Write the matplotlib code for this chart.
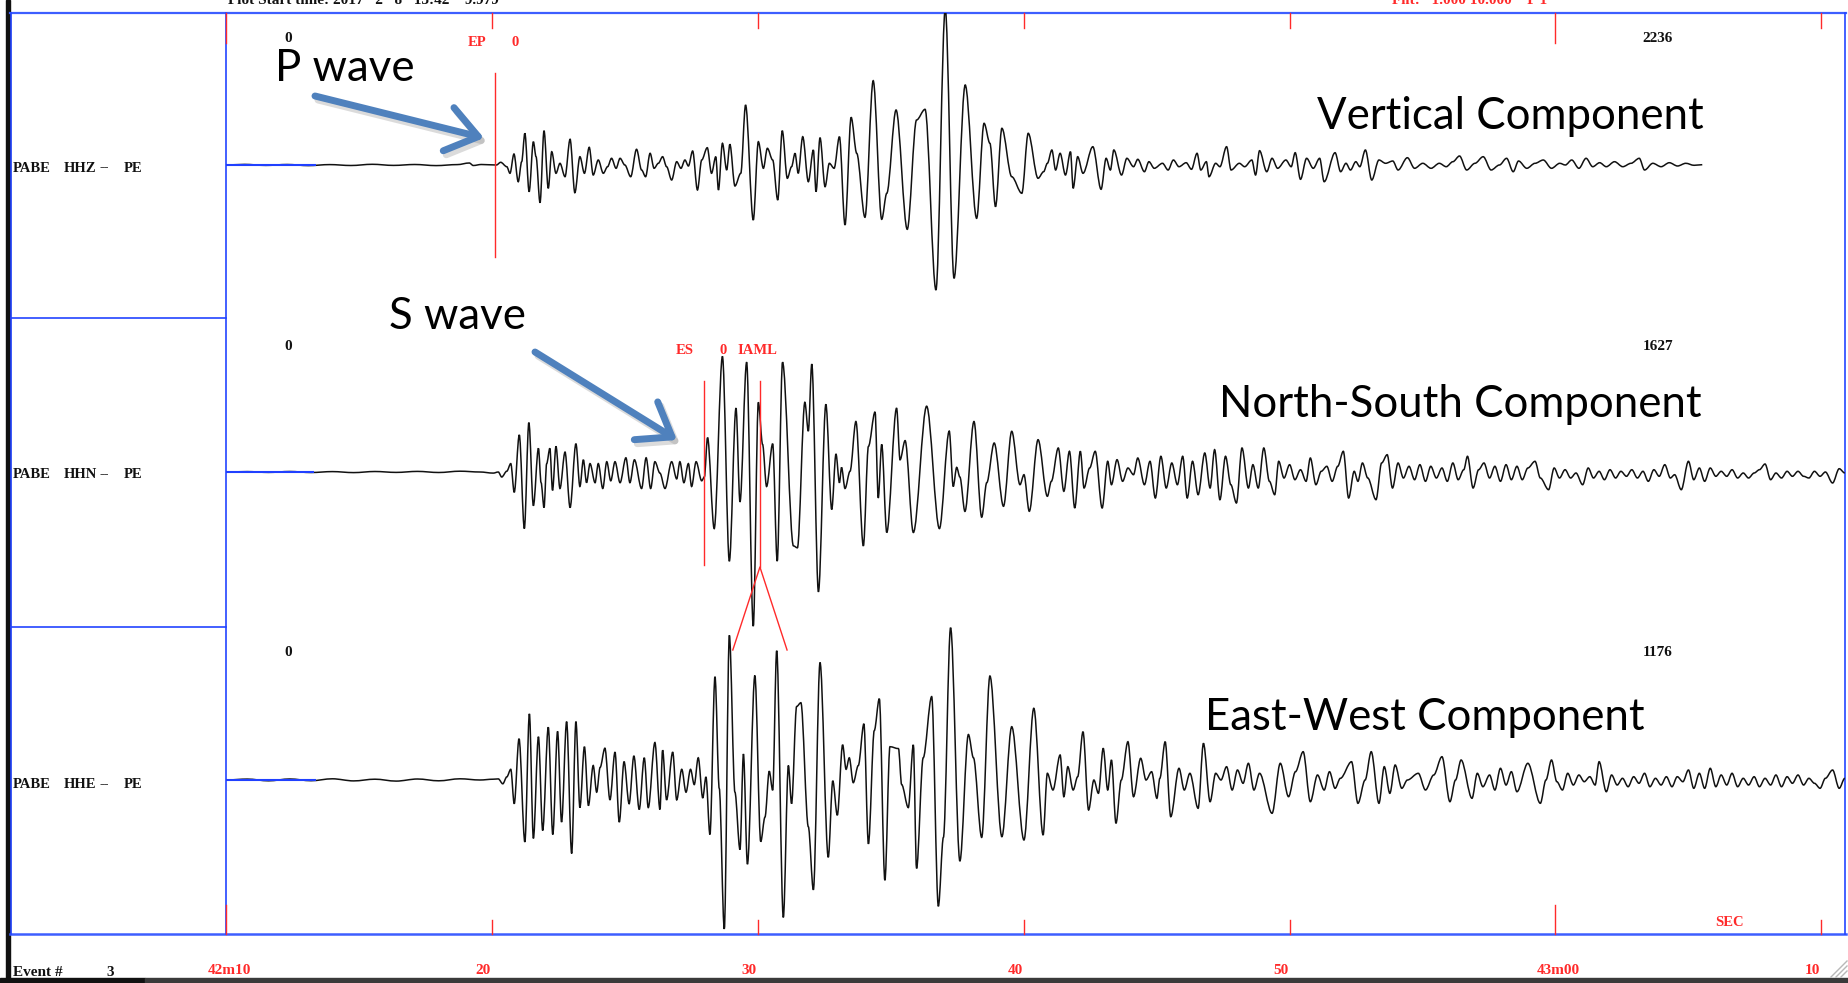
import matplotlib
matplotlib.use("Agg")
import matplotlib.pyplot as plt
from matplotlib.patches import Rectangle, PathPatch
from matplotlib.path import Path
import numpy as np

# ---------------- data ----------------
STATION = "PABE"
NETWORK = "PE"
CHANNELS = ["HHZ", "HHN", "HHE"]
TRACE_MAX = ["2236", "1627", "1176"]
COMPONENTS = ["Vertical Component", "North-South Component", "East-West Component"]
TICK_SECONDS = [0, 10, 20, 30, 40, 50, 60]
TICK_LABELS = ["42m10", "20", "30", "40", "50", "43m00", "10"]
PICK_EP = 10.12
PICK_ES = 17.98
PICK_IAML = 20.08
PRE_WINDOW_END = [3.4, 3.3, 3.4]

# vertical component: (time s after 42m10, amplitude display units)
Z_T = [0.0, 0.7, 1.5, 2.3, 3.1, 3.9, 4.7, 5.5, 6.3, 7.1, 7.9, 8.7, 9.15, 9.3, 9.6, 10.17,
       10.33, 10.56, 10.68, 10.83, 10.99, 11.12, 11.24, 11.40, 11.56, 11.66, 11.81, 11.96, 12.12,
       12.25, 12.41, 12.56, 12.75, 12.94, 13.12, 13.31, 13.48, 13.66, 13.81, 14.00, 14.19, 14.35,
       14.50, 14.67, 14.82, 15.00, 15.22, 15.44, 15.63, 15.78, 15.95, 16.10, 16.26, 16.42, 16.57,
       16.76, 16.95, 17.11, 17.26, 17.39, 17.55, 17.73, 17.89, 18.10, 18.26, 18.42, 18.52, 18.67,
       18.83, 18.95, 19.14, 19.36, 19.54, 19.83, 20.02, 20.21, 20.36, 20.56, 20.75, 20.92, 21.11,
       21.27, 21.40, 21.52, 21.69, 21.90, 22.09, 22.19, 22.34, 22.53, 22.69, 22.87, 23.07, 23.28,
       23.51, 23.72, 24.03, 24.34, 24.66, 24.85, 25.20, 25.62, 25.97, 26.29, 26.70, 27.05, 27.38,
       27.80, 28.23, 28.51, 28.73,
       28.94, 29.18, 29.55, 29.93, 30.17, 30.54, 30.75, 30.89, 31.06, 31.20, 31.37, 31.57, 31.76,
       31.86, 32.03, 32.23, 32.60, 32.91, 33.10, 33.26, 33.39, 33.68, 33.88, 34.13, 34.29, 34.54,
       34.71, 34.91, 35.22, 35.43, 35.63, 35.84, 36.11, 36.31, 36.52, 36.66, 36.87, 36.97, 37.22,
       37.38, 37.63, 37.80, 38.11, 38.31, 38.58, 38.72, 38.87, 39.14, 39.34, 39.55, 39.86, 40.06,
       40.21, 40.41, 40.64, 40.89, 41.13, 41.30, 41.71, 41.92, 42.12, 42.29, 42.49, 42.64, 42.85,
       43.09, 43.36, 43.61, 43.88, 44.08, 44.43, 44.70, 45.01, 45.32, 45.63, 45.89, 46.14, 46.39,
       46.66, 46.97, 47.28, 47.58, 47.89, 48.16, 48.41, 48.61, 48.92, 49.23, 49.54, 49.85, 50.16,
       50.37, 50.61, 50.88, 51.15, 51.40, 51.66, 51.91, 52.22, 52.53, 52.84, 53.15, 53.35, 53.66,
       53.97, 54.28, 54.59, 54.90, 55.21, 55.52]
Z_A = [0, 0.6, -0.4, 0.5, -0.6, 0.4, -0.5, 0.7, -0.4, 0.5, -0.6, 0.4, 2.0, -0.5, 0.5, 0,
       2.7, -1.7, -8.3, 11, -16.7, 3.3, 31.7, -26.7, 23.3, 8.3, -37.7, 34.3, -23.3,
       13.3, -8.3, 1.7, -11.7, 25.7, -27.7, 8.3, -8.3, 17.7, -10, 5, -8.3, -1.7,
       6.7, -3.3, 6.7, 0, -11.7, 15.7, -5, -11.7, 11.7, -3.3, 1.7, 8.3, -1.7,
       -15, 3.3, -3.3, 5, -1, 14, -25, 5, 17.3, -8.3, 8.3, -25, 21.7,
       -5, 20.7, -21, -8.3, 60, -55, 23.3, -3.3, 16.7, 5, -35, 34.3, -13.3,
       -1.7, 11.7, -8.3, 28.3, -16.7, 15, -26.7, 27.3, -21.7, 1.7, -3.3, 28.3, -60,
       47.7, 11.7, -52.3, 84.3, -54.3, -28.3, 55, -64.3, 45, 55.7, -125, 156, -113.3,
       80, -53.3, 41.7, 21.7,
       -41.7, 36.7, -11.7, -28.3, 31.7, -13.3, -6.7, 1.7, 15, -5, 11.7, -10, 13.3,
       -23.3, 8.3, -8.3, 18.3, -24.3, 6.7, -5, 15, -10, 6.7, -1.7, 5.7, -6.7,
       3.3, -3.3, 1.7, -5, 5, -1.7, 2.3, -4.3, 11.7, -5, 3.3, -11.7, 1.7,
       -1.7, 18.3, -5, 1.7, -1.7, 5, -10, 14.3, -6.7, 6.7, -3.3, 5, -1.7,
       12.3, -14.3, 6.7, -3.3, 6.7, -16.7, 12.3, -6.7, 1.7, -5, 3.3, -1.7, 15,
       -15, 5, 1.7, 4, -5, 7.3, -3.3, 1.7, -3.3, 1.7, -1.7, 3.3, 9,
       -5, 1.7, 8.3, -5, 0, 6.7, -6.7, 4, -3.3, 1.7, 5, -3.3, 1.7,
       0, 5, -3.3, 6.7, -1.7, 2.3, -1.7, 3.3, -1.7, 1.7, 6.7, -5, 1.7,
       -1.7, 2.3, -1, 1.7, -0.3, 0.3]

# north-south component
N_T = [0.0, 0.8, 1.6, 2.4, 3.2, 4.0, 4.8, 5.6, 6.4, 7.2, 8.0, 8.8, 9.55, 10.05, 10.24,
       10.37, 10.56, 10.71, 10.84, 11.03, 11.22, 11.39, 11.56, 11.75, 11.85, 11.96, 12.06, 12.18,
       12.28, 12.41, 12.56, 12.75, 12.94, 13.16, 13.31, 13.44, 13.56, 13.69, 13.88, 14.00, 14.17,
       14.32, 14.47, 14.63, 14.82, 15.04, 15.19, 15.36, 15.63, 15.80, 15.97, 16.13, 16.32, 16.51,
       16.76, 16.95, 17.07, 17.22, 17.39, 17.51, 17.68, 17.89, 17.99, 18.11, 18.36, 18.67, 18.93,
       19.18, 19.33, 19.58, 19.83, 20.02, 20.18, 20.33, 20.56, 20.73, 20.93, 21.34, 21.49, 21.77,
       21.90, 22.03, 22.28, 22.56, 22.78, 22.94, 23.07, 23.15, 23.28, 23.47, 23.69, 23.97, 24.16,
       24.41, 24.53, 24.66, 24.85, 25.22, 25.35, 25.54, 25.85, 26.35, 26.83, 27.20, 27.35, 27.48,
       27.60, 27.79, 28.13, 28.42, 28.61,
       28.89, 29.24, 29.55, 29.86, 30.01, 30.21, 30.54, 30.89, 31.04, 31.30, 31.51, 31.72, 31.92,
       32.13, 32.27, 32.48, 32.69, 32.95, 33.16, 33.30, 33.51, 33.72, 33.92, 34.13, 34.29, 34.54,
       34.75, 34.95, 35.16, 35.36, 35.57, 35.78, 35.98, 36.15, 36.35, 36.56, 36.81, 37.01, 37.18,
       37.38, 37.59, 37.79, 38.00, 38.21, 38.45, 38.62, 38.82, 39.03, 39.24, 39.44, 39.59, 39.79,
       40.00, 40.20, 40.41, 40.62, 40.78, 40.99, 41.19, 41.40, 41.60, 41.81, 42.02, 42.22, 42.43,
       42.57, 42.74, 42.94, 43.25, 43.46, 43.67, 43.87, 44.08, 44.28, 44.49, 44.70, 44.90, 45.11,
       45.31, 45.52, 45.73, 45.93, 46.14, 46.34, 46.55, 46.69, 46.90, 47.11, 47.31, 47.52, 47.72,
       47.93, 48.14, 48.34, 48.55, 48.75, 48.96, 49.23, 49.43, 49.74, 49.95, 50.15, 50.36, 50.57,
       50.77, 51.02, 51.23, 51.43, 51.64, 51.84, 52.05, 52.26, 52.46, 52.67, 52.87, 53.08, 53.29,
       53.49, 53.70, 53.90, 54.11, 54.32, 54.48, 54.73, 55.00, 55.20, 55.41, 55.61, 55.82, 56.03,
       56.23, 56.44, 56.64, 56.85, 57.06, 57.26, 57.47, 57.67, 57.88, 58.09, 58.29, 58.50, 58.71,
       58.91, 59.12, 59.33, 59.53, 59.74, 59.95, 60.15, 60.42, 60.67, 60.88]
N_A = [0, 0.4, -0.4, 0.5, -0.5, 0.4, -0.6, 0.5, -0.4, 0.6, -0.5, 0.8, 0, -1.1, 0,
       -5, 0.8, 8.4, -20.3, 37.1, -56.6, 49.4, -33.7, 23.7, -10.7, -35.6, 8.4, 23.7,
       -18.4, 25.6, -16.5, 19.9, -35.6, 28.3, -14.5, 12.2, -10.7, 8.4, -10.7, 8.4, -16.5,
       10.3, -8.8, 10.3, -10.7, 14.2, -10.7, 12.2, -16.5, 14.2, -16.5, 10.3, -1.1, -16.5,
       10.3, -6.9, 10.3, -10.7, 8.4, -14.5, 10.3, -8.8, -5, 34.4, -56.6, 115.6, -89.2,
       63.9, -29.9, 109.8, -154.2, 69.7, 27.6, -14.5, 28.3, -89.2, 109.8, -73.9, -75.8, 69.7,
       40.9, 107.9, -119.8, 67.7, -37.5, 18, -10.7, 4.6, -16.5, 0.8, 50.5, -73.9, 25.6,
       60.1, -26, 27.6, -60.5, 63.9, 12.2, 31.4, -60.5, 65.8, -56.6, 40.9, -14.5, 4.6,
       -5, -39.4, 50.5, -45.2, -10.7,
       29, -34.3, 40.7, -12.7, -2.7, -39.3, 32.3, -24.3, -9.3, 24, -19.3, 20.7, -36,
       20.7, -16, 4, 20.7, -36, 10.7, -12.7, 12.3, -9.3, 4, -2.7, 14, -12.7,
       10.7, -26, 15.7, -16, 9, -12.7, 15.7, -26, 10.7, -22.7, 19, -16, 22.3,
       -27.7, 15.7, -12.7, -31, 24, -16, 7.3, -16, 24, -9.3, -22.7, 10.7, -6,
       7.3, -7.7, 2.3, -9.3, 14, -12.7, 0.7, 5.7, -9.3, 5.7, 20.7, -26, 0.7,
       -9.3, 9, -6, -27.7, 9, 17.3, -16, 9, -6, 5.7, -7.7, 7.3, -9.3,
       5.7, -6, 4, -9.3, 9, -7.7, 2.3, 15.7, -16, 2.3, 9, -6, 5.7,
       -9.3, 7.3, -7.7, 5.7, -7.7, 4, 10.7, -6, -17.7, 4, -6, 2.3, -6,
       -1, -12.7, 4, -6, 0.7, -7.7, 2.3, -6, 0.7, -4.3, 2.3, -6, 0.7,
       -9.3, 2.3, -4.3, 7.3, -6, -2.7, -17.7, 10.7, -7.7, 4, -9.3, 4, -4.3,
       0.7, -4.3, 2.3, -6, -1, -6, -1, 2.3, 8, -7.7, -1, -6, 0.7,
       -4.3, 0.7, -4.3, -6, 0.7, -4.3, 0, -11, 3.3, -1]

# east-west component
E_T = [0.0, 0.8, 1.6, 2.4, 3.2, 4.0, 4.8, 5.6, 6.4, 7.2, 8.0, 8.8, 9.55, 10.05, 10.24,
       10.41, 10.56, 10.71, 10.84, 11.02, 11.24, 11.41, 11.56, 11.75, 11.91, 12.12, 12.29, 12.47,
       12.62, 12.81, 13.00, 13.16, 13.31, 13.48, 13.63, 13.81, 13.94, 14.07, 14.25, 14.44, 14.63,
       14.79, 14.97, 15.16, 15.34, 15.54, 15.73, 15.88, 16.13, 16.32, 16.42, 16.57, 16.80, 16.95,
       17.14, 17.30, 17.47, 17.61, 17.76, 17.93, 18.05, 18.20, 18.39, 18.55, 18.74, 18.93, 19.14,
       19.33, 19.46, 19.61, 19.89, 20.11, 20.27, 20.43, 20.56, 20.71, 20.96, 21.15, 21.27, 21.46,
       21.62, 21.90, 22.09, 22.34, 22.65, 22.82, 22.99, 23.19, 23.32, 23.44, 23.59, 23.78, 23.99,
       24.16, 24.38, 24.57, 24.78, 24.97, 25.29, 25.41, 25.66, 25.85, 25.97, 26.22, 26.54, 26.79,
       26.98, 27.25, 27.60, 27.92, 28.11, 28.42, 28.73,
       29.18, 29.55, 30.01, 30.38, 30.73, 30.89, 31.10, 31.37, 31.51, 31.66, 31.86, 32.03, 32.23,
       32.44, 32.64, 32.81, 32.99, 33.16, 33.30, 33.47, 33.67, 33.92, 34.13, 34.40, 34.60, 34.81,
       35.01, 35.12, 35.32, 35.53, 35.84, 36.04, 36.25, 36.56, 36.76, 37.01, 37.22, 37.42, 37.63,
       37.84, 38.04, 38.25, 38.45, 38.66, 38.87, 39.34, 39.65, 39.96, 40.22, 40.51, 40.78, 41.05,
       41.30, 41.50, 41.71, 41.91, 42.33, 42.57, 42.84, 43.07, 43.36, 43.56, 43.77, 43.97, 44.22,
       44.43, 44.84, 45.11, 45.42, 45.73, 46.03, 46.24, 46.45, 46.86, 47.06, 47.27, 47.52, 47.72,
       47.93, 48.14, 48.34, 48.55, 48.96, 49.43, 49.64, 49.85, 50.05, 50.26, 50.46, 50.67, 50.88,
       51.08, 51.29, 51.49, 51.64, 51.91, 52.11, 52.32, 52.52, 52.73, 52.94, 53.14, 53.35, 53.55,
       53.76, 53.97, 54.17, 54.38, 54.58, 54.79, 55.00, 55.20, 55.41, 55.61, 55.82, 56.03, 56.23,
       56.44, 56.64, 56.85, 57.06, 57.26, 57.47, 57.67, 57.88, 58.09, 58.29, 58.50, 58.71, 58.91,
       59.12, 59.33, 59.53, 59.74, 59.95, 60.15, 60.42, 60.67, 60.88]
E_A = [0, 0.9, -0.8, 1.0, -0.7, 1.2, -0.9, 0.8, -1.1, 1.0, -0.8, 1.2, 0, 0.8, 1.1,
       -3.8, 3.1, 10.7, -23.7, 41.3, -62, 66.2, -58.4, 43.3, -50.5, 52.8, -54.5, 48.6,
       -42.1, 58.4, -73.5, 58.4, -27.6, 33.3, -25.6, 14.5, -12.2, 12.6, 31.8, -19.9, 27.9,
       -42.1, 18.4, -23.7, 24.1, -29.5, 22.2, -27.6, 37.5, -29.5, 29.8, -19.9, 27.9, -19.9,
       10.7, -12.2, 10.7, -4.6, 22.2, -18, 3.1, -54.5, 103.3, -8.4, -149, 144.7, -12.2,
       -69.6, 26, -84.2, 104.5, -61.6, -37.1, 8.8, -10.3, 129.3, -137.4, 14.5, -23.7, 73.5,
       77.3, -46.7, -109.8, 117.5, -77.3, -0.8, -35.2, 35.2, 10.7, 22.2, -2.7, 14.5, 56.2,
       -63.9, 49.4, 81.3, -100.3, 33.3, 31.4, -4.6, -27.6, 35.2, -88.4, 22.2, 83.4, -126.3,
       -57.4, 152.3, -81.1, 45.5, 22.2, -57.4, 104,
       -56.7, 53.3, -60, 71.7, -55, 6.7, -10, 25, -16.7, 13.3, -10, 3.3, 48.3,
       -30, 0, -13.3, 31.7, -10, 20, -43.3, 0, 38.3, -16.7, 21.7, 0, 8.3,
       -18.3, 1.7, 38.3, -36.7, 11.7, -10, 6.7, -28.3, 36.7, -21.7, 6.7, 0, 13.3,
       -10, 10, -3.3, 16.7, -10, 6.7, -33.3, 16.7, -16.7, 8.3, 28.3, -21.7, 5,
       -10, 8.3, -8.3, 1.7, 18.3, -23.3, 0, 28.3, -23.3, 13.3, -13.3, 15, -8.3,
       0, 6.7, -10, 5, 23.3, -21.7, 0, 20, -18.3, 6.7, -6.7, 5, -10,
       11.7, -5, 8.3, -11.7, 16.7, -23.3, 0, 20, -1.7, -10, 6.7, -5, 5,
       -1.7, 3.3, -5, 18.3, -11.7, 5, -5, 1.7, -6.7, 3.3, -3.3, 6.7, -6.7,
       1.7, -5, 3.3, -6.7, 3.3, -1.7, 10, -8.3, 6.7, -8.3, 11.7, -6.7, 5,
       -5, 6.7, -6.7, 1.7, -5, 3.3, -6.7, 1.7, -5, 5, -6.7, 3.3, -3.3,
       5, -5, 1.7, -3.3, -8.3, 1.7, 10, -8.3, 1.7]

TRACES_T = [Z_T, N_T, E_T]
TRACES_A = [Z_A, N_A, E_A]

# ---------------- layout (pixels of the 1849x983 image) ----------------
W, H, DPI = 1849, 983, 100
X0, X1 = 226, 1845          # left / right edge of trace area
YTOP, YBOT = 13, 934        # top / bottom frame lines
PX_PER_S = 26.59
BASE_ROW = [165, 472, 780]
LABEL_ROW = [168, 475, 785]
NUM_ROW = [38, 347, 653]
BLUE = "#3d5eff"
RED = "#ff2a2a"
ARROW = "#4f81bd"
SERIF = "Liberation Serif"
SANS = "Lato"

fig = plt.figure(figsize=(W / DPI, H / DPI), dpi=DPI)
fig.patch.set_facecolor("white")

ov = fig.add_axes([0, 0, 1, 1])
ov.set_xlim(0, W)
ov.set_ylim(H, 0)
ov.axis("off")

ax = fig.add_axes([X0 / W, (H - YBOT) / H, (X1 - X0) / W, (YBOT - YTOP) / H])
ax.set_xlim(0, (X1 - X0) / PX_PER_S)
ax.set_ylim(YBOT, YTOP)
ax.axis("off")

# frame
ov.add_patch(Rectangle((5.5, 0), 4.5, H, color="#111111", zorder=1))
ov.plot([10, X1 + 1], [YTOP, YTOP], color=BLUE, lw=1.6, zorder=2)
ov.plot([10, X1 + 1], [YBOT, YBOT], color=BLUE, lw=1.8, zorder=2)
ov.plot([11, 11], [YTOP, YBOT], color="#2244ff", lw=1.2, zorder=2)
ov.plot([X0, X0], [YTOP, YBOT], color="#2244ff", lw=1.2, zorder=2)
ov.plot([X1, X1], [YTOP, YBOT], color="#2244ff", lw=1.2, zorder=2)
for r in (318, 627):
    ov.plot([11, X0], [r, r], color="#2244ff", lw=1.2, zorder=2)

# bottom window strip and resize grip
ov.add_patch(Rectangle((0, 978), 145, 6, color="#111111", zorder=3))
ov.add_patch(Rectangle((145, 978), W - 145, 6, color="#3a3a3a", zorder=3))
for d in (6, 11, 16):
    ov.plot([W - 2, W - 2 - d], [962 - 1 + 16 - d + 0, 977], color="#b8b8b8", lw=1.0, zorder=3)

# clipped header texts at very top (the reference shows only their lower part)
ov.text(228, 0, "Plot Start time: 2017   2   8   13:42    9.979", ha="left", va="center",
        family=SERIF, weight="bold", fontsize=11, color="#111111")
ov.text(1392, 0, "Filt:   1.000 10.000    P 1", ha="left", va="center",
        family=SERIF, weight="bold", fontsize=11, color=RED)

# left-panel labels
for k, ch in enumerate(CHANNELS):
    y = LABEL_ROW[k]
    for x, s in ((13, STATION), (64, ch), (100, "--"), (124, NETWORK)):
        ov.text(x, y, s, ha="left", va="center", family=SERIF, weight="bold",
                fontsize=10.5, color="#111111")
    ov.text(288, NUM_ROW[k], "0", ha="center", va="center", family=SERIF,
            weight="bold", fontsize=11, color="#111111")
    ov.text(1658, NUM_ROW[k], TRACE_MAX[k], ha="center", va="center", family=SERIF,
            weight="bold", fontsize=11, color="#111111")


def smooth_trace(t, y, frac=0.33):
    """Path through the picked extrema drawn with horizontal tangents (Bezier)."""
    verts = [(t[0], y[0])]
    codes = [Path.MOVETO]
    for i in range(len(t) - 1):
        dt = t[i + 1] - t[i]
        verts += [(t[i] + frac * dt, y[i]), (t[i + 1] - frac * dt, y[i + 1]), (t[i + 1], y[i + 1])]
        codes += [Path.CURVE4] * 3
    return Path(verts, codes)


# traces
for k in range(3):
    t = np.asarray(TRACES_T[k], dtype=float)
    y = BASE_ROW[k] - np.asarray(TRACES_A[k], dtype=float)
    ax.add_patch(PathPatch(smooth_trace(t, y), facecolor="none", edgecolor="#111111",
                           lw=1.1, zorder=4))
    ax.plot([0, PRE_WINDOW_END[k]], [BASE_ROW[k], BASE_ROW[k]], color="#2040ff",
            lw=1.5, zorder=5, solid_capstyle="butt")

# time ticks
for s, lab in zip(TICK_SECONDS, TICK_LABELS):
    minute = "m" in lab
    ax.plot([s, s], [YTOP, YTOP + (30 if minute else 15)], color=RED, lw=1.0,
            clip_on=False, zorder=6)
    ax.plot([s, s], [YBOT, YBOT - (29 if minute else 14)], color=RED, lw=1.0,
            clip_on=False, zorder=6)
    if minute:
        ax.annotate(lab, xy=(s, 971), xycoords="data", xytext=(3, 0),
                    textcoords="offset pixels", ha="center", va="center",
                    family=SERIF, weight="bold", fontsize=11, color=RED,
                    annotation_clip=False)
    else:
        ax.annotate(lab, xy=(s, 971), xycoords="data", xytext=(-1, 0),
                    textcoords="offset pixels", ha="right", va="center",
                    family=SERIF, weight="bold", fontsize=11, color=RED,
                    annotation_clip=False)

ov.text(1729, 922, "SEC", ha="center", va="center", family=SERIF, weight="bold",
        fontsize=10.5, color=RED)
ov.text(13, 972, "Event #", ha="left", va="center", family=SERIF, weight="bold",
        fontsize=11, color="#111111")
ov.text(110, 972, "3", ha="center", va="center", family=SERIF, weight="bold",
        fontsize=11, color="#111111")

# phase picks
ax.plot([PICK_EP, PICK_EP], [73, 257], color=RED, lw=1.0, zorder=6)
ax.annotate("EP", xy=(PICK_EP, 42), xytext=(-18, 0), textcoords="offset pixels",
            ha="center", va="center", family=SERIF, weight="bold", fontsize=10.5, color=RED)
ax.annotate("0", xy=(PICK_EP, 42), xytext=(20, 0), textcoords="offset pixels",
            ha="center", va="center", family=SERIF, weight="bold", fontsize=10.5, color=RED)
ax.plot([PICK_ES, PICK_ES], [381, 565], color=RED, lw=1.0, zorder=6)
ax.plot([PICK_IAML, PICK_IAML], [381, 567], color=RED, lw=1.0, zorder=6)
ax.plot([PICK_IAML - 1.02, PICK_IAML, PICK_IAML + 1.02], [650, 567, 650], color=RED,
        lw=1.0, zorder=6)
ax.annotate("ES", xy=(PICK_ES, 351), xytext=(-19, 0), textcoords="offset pixels",
            ha="center", va="center", family=SERIF, weight="bold", fontsize=10.5, color=RED)
ax.annotate("0", xy=(PICK_ES, 351), xytext=(19, 0), textcoords="offset pixels",
            ha="center", va="center", family=SERIF, weight="bold", fontsize=10.5, color=RED)
ax.annotate("IAML", xy=(PICK_IAML, 351), xytext=(-3, 0), textcoords="offset pixels",
            ha="center", va="center", family=SERIF, weight="bold", fontsize=10.5, color=RED)

# slide annotations
def arrow(tail, tip):
    sh = 3
    ov.annotate("", xy=(tip[0] + sh, tip[1] + sh + 1), xytext=(tail[0] + sh, tail[1] + sh + 1),
                arrowprops=dict(arrowstyle="->,head_length=0.55,head_width=0.4", lw=5,
                                color="#999999", alpha=0.35, shrinkA=0, shrinkB=0,
                                mutation_scale=40), zorder=7)
    ov.annotate("", xy=tip, xytext=tail,
                arrowprops=dict(arrowstyle="->,head_length=0.55,head_width=0.4", lw=5,
                                color=ARROW, shrinkA=0, shrinkB=0, mutation_scale=40,
                                capstyle="round"), zorder=8)

ov.text(275, 81, "P wave", ha="left", va="baseline", family=SANS, fontsize=31.5,
        color="black", zorder=9)
arrow((315, 96), (484, 138))
ov.text(389, 329, "S wave", ha="left", va="baseline", family=SANS, fontsize=31.5,
        color="black", zorder=9)
arrow((535, 352), (677, 440))

for s, (xr, yb) in zip(COMPONENTS, ((1704, 129), (1702, 417), (1645, 730))):
    ov.text(xr, yb, s, ha="right", va="baseline", family=SANS, fontsize=31.5,
            color="black", zorder=9)

fig.savefig("out.png", dpi=DPI, facecolor="white")
